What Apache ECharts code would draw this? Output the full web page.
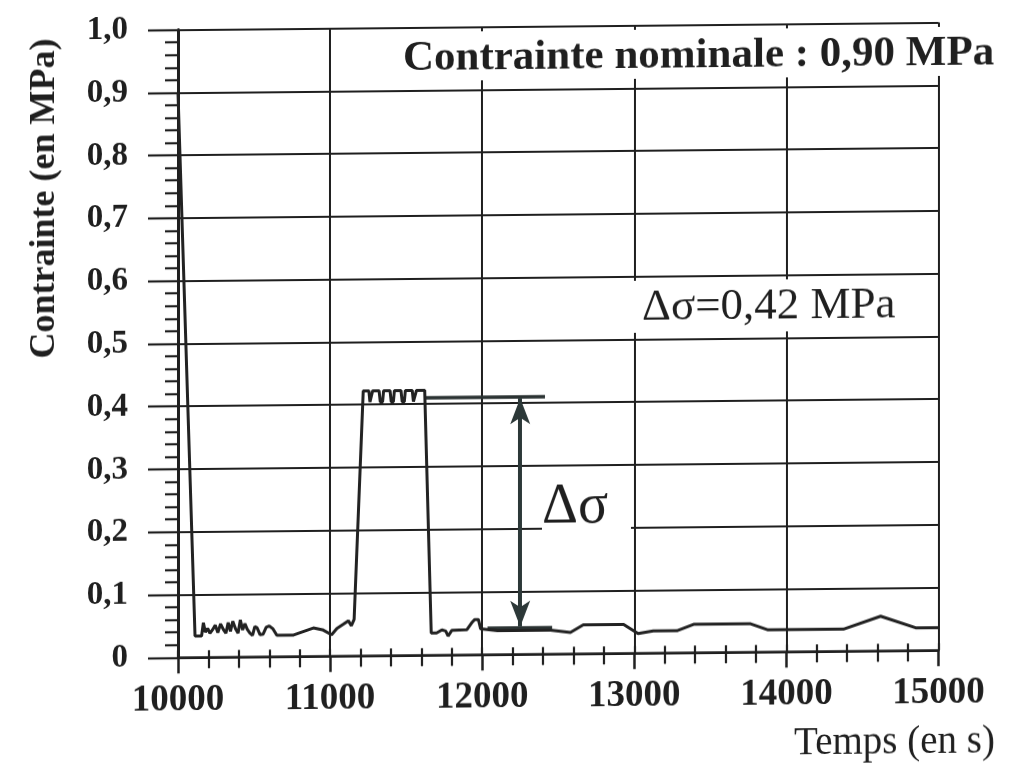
<!DOCTYPE html>
<html>
<head>
<meta charset="utf-8">
<script src="https://cdn.jsdelivr.net/npm/echarts@6/dist/echarts.min.js"></script>
<style>
html,body{margin:0;padding:0;background:#fff;overflow:hidden}
#chart{width:1028px;height:769px;transform:skewY(-0.55deg);transform-origin:514px 384px;}
</style>
</head>
<body>
<div id="chart"></div>
<script>
// ---- data ----
const time = [
  10000, 10013, 10112, 10155, 10167, 10180, 10195, 10210, 10228, 10245,
  10262, 10280, 10298, 10315, 10330, 10345, 10360, 10378, 10395, 10410,
  10425, 10440, 10455, 10472, 10490, 10505, 10520, 10540, 10560, 10580,
  10600, 10625, 10650, 10760, 10890, 10950, 11010, 11045, 11090, 11120,
  11140, 11158,
  11218, 11255, 11262, 11272, 11280, 11322, 11330, 11345, 11352, 11394,
  11402, 11416, 11423, 11466, 11474, 11488, 11495, 11540, 11548, 11560,
  11568, 11622,
  11665, 11700, 11735, 11760, 11776, 11800, 11900, 11935, 11950, 11975,
  11990, 12100, 12450, 12580, 12665, 12930, 13025, 13125, 13280, 13390,
  13765, 13880, 14375, 14620, 14850, 15000
];
const stress = [
  0.900, 0.800, 0.034, 0.034, 0.055, 0.040, 0.046, 0.038, 0.044, 0.051,
  0.039, 0.053, 0.044, 0.038, 0.055, 0.041, 0.057, 0.045, 0.038, 0.059,
  0.043, 0.053, 0.044, 0.038, 0.034, 0.048, 0.046, 0.035, 0.036, 0.047,
  0.049, 0.044, 0.034, 0.034, 0.045, 0.042, 0.034, 0.044, 0.051, 0.056,
  0.048, 0.058,
  0.422, 0.422, 0.404, 0.404, 0.422, 0.422, 0.404, 0.404, 0.422, 0.422,
  0.404, 0.404, 0.422, 0.422, 0.404, 0.404, 0.422, 0.422, 0.404, 0.404,
  0.422, 0.422,
  0.035, 0.035, 0.040, 0.038, 0.030, 0.039, 0.040, 0.052, 0.056, 0.056,
  0.041, 0.038, 0.038, 0.034, 0.046, 0.046, 0.031, 0.035, 0.035, 0.045,
  0.045, 0.035, 0.035, 0.055, 0.036, 0.036
];
// Δσ annotation (time, stress)
const deltaTopLine = [[11622, 0.41], [12413, 0.41]];
const deltaBottomLine = [[12035, 0.042], [12460, 0.042]];
const deltaArrow = [[12250, 0.408], [12250, 0.044]];
// axis ranges and tick labels
const xMin = 10000, xMax = 15000, xStep = 1000;
const yMin = 0, yMax = 1, yStep = 0.1;
const yTickLabels = ['0', '0,1', '0,2', '0,3', '0,4', '0,5', '0,6', '0,7', '0,8', '0,9', '1,0'];
const xTickLabels = ['10000', '11000', '12000', '13000', '14000', '15000'];
// texts
const titleText = 'Contrainte nominale : 0,90 MPa';
const deltaValueText = 'Δσ=0,42 MPa';
const deltaText = 'Δσ';
const xName = 'Temps (en s)';
const yName = 'Contrainte (en MPa)';

const INK = '#1f1f1f';
const SERIF = '"Liberation Serif", "Times New Roman", serif';

const chart = echarts.init(document.getElementById('chart'), null, {renderer: 'canvas'});
const lineData = time.map((t, i) => [t, stress[i]]);

const option = {
  animation: false,
  backgroundColor: '#ffffff',
  grid: {left: 178, right: 89.5, top: 26.6, bottom: 114.7, outerBoundsMode: 'none', containLabel: false},
  xAxis: [{
    type: 'value', min: xMin, max: xMax, interval: xStep,
    axisLine: {show: true, onZero: false, lineStyle: {color: INK, width: 2.5}},
    axisTick: {show: true, length: 16, lineStyle: {color: INK, width: 2.5}},
    minorTick: {show: true, splitNumber: 5, length: 11, lineStyle: {color: INK, width: 2.2}},
    splitLine: {show: true, lineStyle: {color: INK, width: 2}},
    axisLabel: {
      margin: 25, fontFamily: SERIF, fontSize: 37, fontWeight: 'bold', color: INK,
      formatter: v => xTickLabels[Math.round((v - xMin) / xStep)] || ''
    }
  }, {
    type: 'value', min: xMin, max: xMax, interval: xStep, position: 'bottom',
    axisLine: {show: false},
    axisTick: {show: true, inside: true, length: 7, lineStyle: {color: INK, width: 2.2}},
    minorTick: {show: true, splitNumber: 5, length: 7, lineStyle: {color: INK, width: 2.2}},
    splitLine: {show: false},
    axisLabel: {show: false}
  }],
  yAxis: {
    type: 'value', min: yMin, max: yMax, interval: yStep,
    axisLine: {show: true, lineStyle: {color: INK, width: 3}},
    axisTick: {show: true, length: 30, lineStyle: {color: INK, width: 2.2}},
    minorTick: {show: true, splitNumber: 5, length: 13, lineStyle: {color: INK, width: 2.2}},
    splitLine: {show: true, lineStyle: {color: INK, width: 2}},
    axisLabel: {
      margin: 50, fontFamily: SERIF, fontSize: 33, fontWeight: 'bold', color: INK,
      formatter: v => yTickLabels[Math.round((v - yMin) / yStep)]
    }
  },
  series: [{
    type: 'line',
    data: lineData,
    showSymbol: false,
    symbol: 'none',
    lineStyle: {color: '#222', width: 3},
    z: 5,
    markLine: {
      silent: true, symbol: ['none', 'none'], animation: false,
      label: {show: false},
      lineStyle: {color: '#2a3232', width: 3.5, type: 'solid'},
      data: [
        [{coord: deltaTopLine[0]}, {coord: deltaTopLine[1]}],
        [{coord: deltaBottomLine[0]}, {coord: deltaBottomLine[1]}]
      ]
    }
  }, {
    type: 'line',
    data: [],
    markLine: {
      silent: true, symbol: ['arrow', 'arrow'], symbolSize: [15, 26], animation: false,
      label: {show: false},
      lineStyle: {color: '#2c3838', width: 4, type: 'solid'},
      data: [[{coord: deltaArrow[0]}, {coord: deltaArrow[1]}]]
    }
  }],
  graphic: [
    {type: 'rect', z: 100, shape: {x: 398, y: 31, width: 630, height: 49}, style: {fill: '#fff'}},
    {type: 'text', z: 101, x: 403, y: 58, style: {text: titleText, fontFamily: SERIF, fontSize: 43, fontWeight: 'bold', fill: INK, align: 'left', verticalAlign: 'middle'}},
    {type: 'rect', z: 100, shape: {x: 634, y: 282, width: 303, height: 52}, style: {fill: '#fff'}},
    {type: 'text', z: 101, x: 642, y: 309, style: {text: deltaValueText, fontFamily: SERIF, fontSize: 45, fill: INK, align: 'left', verticalAlign: 'middle'}},
    {type: 'rect', z: 100, shape: {x: 542, y: 476, width: 89, height: 66}, style: {fill: '#fff'}},
    {type: 'text', z: 101, x: 542, y: 508, style: {text: deltaText, fontFamily: SERIF, fontSize: 56, fill: INK, align: 'left', verticalAlign: 'middle'}},
    {type: 'text', z: 101, x: 995, y: 747, style: {text: xName, fontFamily: SERIF, fontSize: 39, fill: INK, align: 'right', verticalAlign: 'middle'}},
    {type: 'text', z: 101, x: 45, y: 194, rotation: Math.PI / 2, style: {text: yName, fontFamily: SERIF, fontSize: 36, fontWeight: 'bold', fill: INK, align: 'center', verticalAlign: 'middle'}}
  ]
};
chart.setOption(option);
</script>
</body>
</html>
